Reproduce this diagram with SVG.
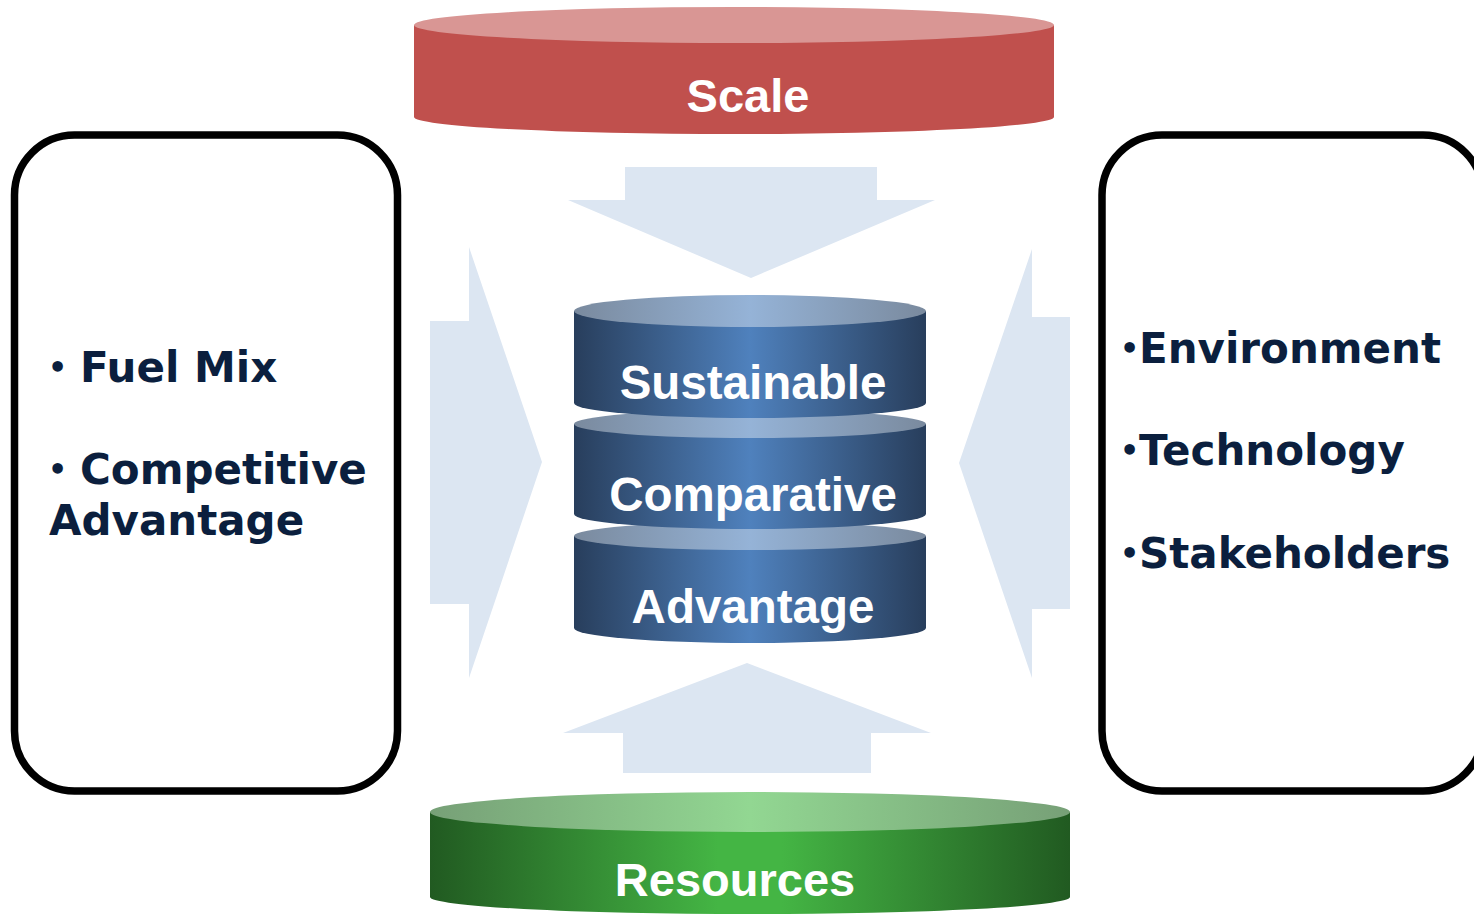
<svg xmlns="http://www.w3.org/2000/svg" width="1474" height="914" viewBox="0 0 1474 914">
<defs>
<linearGradient id="blueBody" x1="0" y1="0" x2="1" y2="0">
<stop offset="0" stop-color="#283e5c"/>
<stop offset="0.5" stop-color="#4f81bd"/>
<stop offset="1" stop-color="#283e5c"/>
</linearGradient>
<linearGradient id="blueTop" x1="0" y1="0" x2="1" y2="0">
<stop offset="0" stop-color="#7a8a9e"/>
<stop offset="0.5" stop-color="#95b3d7"/>
<stop offset="1" stop-color="#7a8a9e"/>
</linearGradient>
<linearGradient id="greenBody" x1="0" y1="0" x2="1" y2="0">
<stop offset="0" stop-color="#215a21"/>
<stop offset="0.45" stop-color="#44b544"/>
<stop offset="0.55" stop-color="#44b544"/>
<stop offset="1" stop-color="#215a21"/>
</linearGradient>
<linearGradient id="greenTop" x1="0" y1="0" x2="1" y2="0">
<stop offset="0" stop-color="#77a077"/>
<stop offset="0.5" stop-color="#92d792"/>
<stop offset="1" stop-color="#77a077"/>
</linearGradient>
</defs>
<style>
.arrow{fill:#dce6f2;stroke:none}
.box{fill:#ffffff;stroke:#000000;stroke-width:7.5}
.cyl{font-family:"Liberation Sans",Arial,sans-serif;font-weight:bold;fill:#ffffff;text-anchor:middle}
.lst{font-family:"DejaVu Sans",Verdana,sans-serif;font-weight:bold;font-size:42px;fill:#0b1f3e}
.bul{font-family:"DejaVu Sans",Verdana,sans-serif;font-weight:bold;font-size:30px;fill:#0b1f3e}
</style>
<rect width="1474" height="914" fill="#ffffff"/>
<g id="connectors">
<polygon class="arrow" points="625,167 877,167 877,200 935,200 751,278 568,200 625,200"/>
<polygon class="arrow" points="623,773 871,773 871,733 931,733 747,663 563,733 623,733"/>
<polygon class="arrow" points="430,321 469,321 469,247 542,462 469,678 469,604 430,604"/>
<polygon class="arrow" points="1070,317 1032,317 1032,249 959,463 1032,678 1032,609 1070,609"/>
</g>
<g id="scale">
<path d="M414,25 L414,117 A320,17 0 0 0 1054,117 L1054,25 Z" fill="#c0504d"/>
<ellipse cx="734" cy="25" rx="320" ry="18" fill="#d99694"/>
<text class="cyl" x="748" y="112" font-size="47">Scale</text>
</g>
<g id="resources">
<path d="M430,812 L430,897 A320,17 0 0 0 1070,897 L1070,812 Z" fill="url(#greenBody)"/>
<ellipse cx="750" cy="812" rx="320" ry="20" fill="url(#greenTop)"/>
<text class="cyl" x="735" y="896" font-size="47">Resources</text>
</g>
<g id="advantage">
<path d="M574,536 L574,628 A176,15 0 0 0 926,628 L926,536 Z" fill="url(#blueBody)"/>
<ellipse cx="750" cy="536" rx="176" ry="14" fill="url(#blueTop)"/>
<text class="cyl" x="753" y="623" font-size="47.5">Advantage</text>
</g>
<g id="comparative">
<path d="M574,424 L574,514 A176,15 0 0 0 926,514 L926,424 Z" fill="url(#blueBody)"/>
<ellipse cx="750" cy="424" rx="176" ry="14" fill="url(#blueTop)"/>
<text class="cyl" x="753" y="511" font-size="47.5">Comparative</text>
</g>
<g id="sustainable">
<path d="M574,311 L574,403 A176,15 0 0 0 926,403 L926,311 Z" fill="url(#blueBody)"/>
<ellipse cx="750" cy="311" rx="176" ry="16" fill="url(#blueTop)"/>
<text class="cyl" x="753" y="399" font-size="47.5">Sustainable</text>
</g>
<g id="left-box">
<rect class="box" x="14.5" y="135" width="383" height="656" rx="60" ry="60"/>
<text class="bul" x="48" y="378">•</text>
<text class="lst" x="80" y="382">Fuel Mix</text>
<text class="bul" x="48" y="480">•</text>
<text class="lst"><tspan x="80" y="484">Competitive</tspan><tspan x="49" y="535">Advantage</tspan></text>
</g>
<g id="right-box">
<rect class="box" x="1102" y="135" width="381" height="656" rx="60" ry="60"/>
<text class="bul" x="1120" y="359">•</text>
<text class="lst" x="1139" y="363">Environment</text>
<text class="bul" x="1120" y="461">•</text>
<text class="lst" x="1139" y="465">Technology</text>
<text class="bul" x="1120" y="564">•</text>
<text class="lst" x="1139" y="568">Stakeholders</text>
</g>
</svg>
